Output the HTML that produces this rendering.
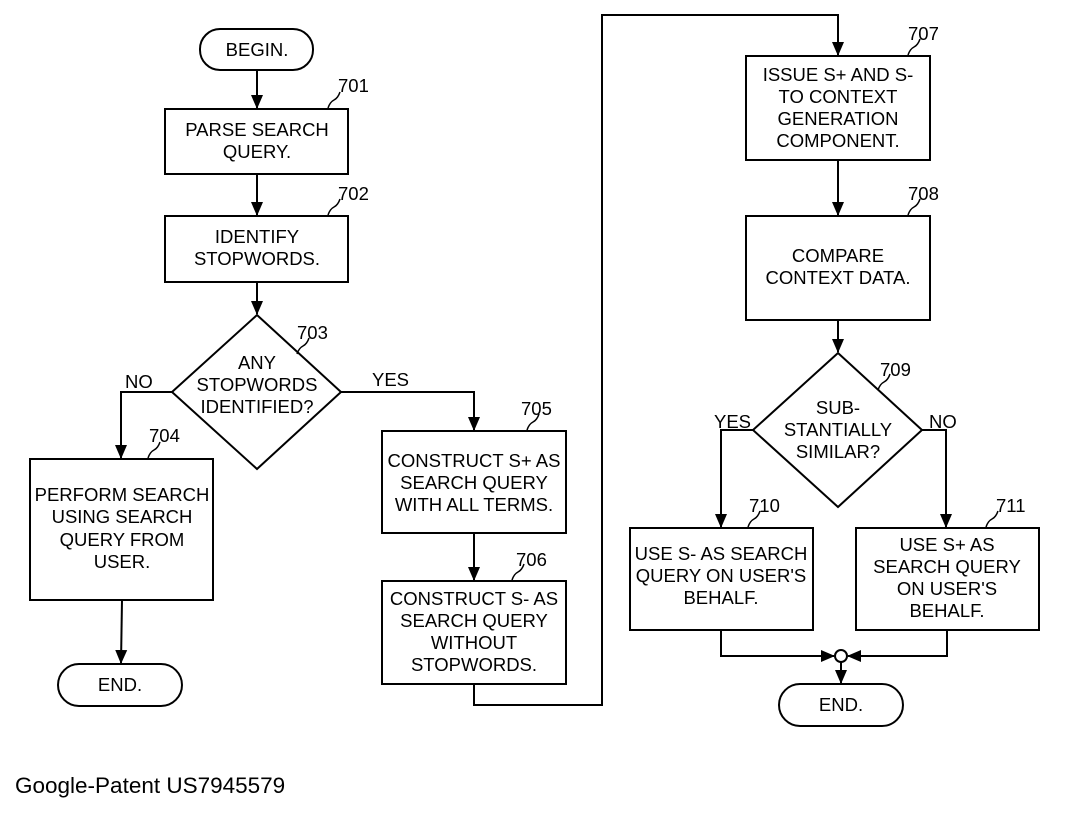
<!DOCTYPE html>
<html><head><style>body{margin:0;background:#fff}svg{display:block}</style></head><body>
<svg width="1073" height="813" viewBox="0 0 1073 813" xmlns="http://www.w3.org/2000/svg" font-family="Liberation Sans, sans-serif" font-size="18.5">
<defs><marker id="a" markerWidth="14" markerHeight="14" refX="13" refY="6" orient="auto" markerUnits="userSpaceOnUse" viewBox="0 0 14 12"><path d="M0,0 L14,6 L0,12 Z" fill="#000"/></marker></defs>
<g fill="none" stroke="#000" stroke-width="2">
<rect x="200" y="29" width="113" height="41" rx="20"/>
<rect x="165" y="109" width="183" height="65"/>
<rect x="165" y="216" width="183" height="66"/>
<path d="M257,315 L341,392 L257,469 L172,392 Z"/>
<rect x="30" y="459" width="183" height="141"/>
<rect x="58" y="664" width="124" height="42" rx="21"/>
<rect x="382" y="431" width="184" height="102"/>
<rect x="382" y="581" width="184" height="103"/>
<rect x="746" y="56" width="184" height="104"/>
<rect x="746" y="216" width="184" height="104"/>
<path d="M838,353 L922,430 L838,507 L753,430 Z"/>
<rect x="630" y="528" width="183" height="102"/>
<rect x="856" y="528" width="183" height="102"/>
<rect x="779" y="684" width="124" height="42" rx="21"/>
<circle cx="841" cy="656" r="6"/>
<path d="M257,70 V108" marker-end="url(#a)"/>
<path d="M257,174 V215" marker-end="url(#a)"/>
<path d="M257,282 V314" marker-end="url(#a)"/>
<path d="M172,392 H121 V458" marker-end="url(#a)"/>
<path d="M341,392 H474 V430" marker-end="url(#a)"/>
<path d="M474,533 V580" marker-end="url(#a)"/>
<path d="M122,600 L121,663" marker-end="url(#a)"/>
<path d="M474,684 V705 H602 V15 H838 V55" marker-end="url(#a)"/>
<path d="M838,160 V215" marker-end="url(#a)"/>
<path d="M838,320 V352" marker-end="url(#a)"/>
<path d="M753,430 H721 V527" marker-end="url(#a)"/>
<path d="M922,430 H946 V527" marker-end="url(#a)"/>
<path d="M721,630 V656 H834" marker-end="url(#a)"/>
<path d="M947,630 V656 H848" marker-end="url(#a)"/>
<path d="M841,662 V683" marker-end="url(#a)"/>
<g stroke-width="1.5">
<path d="M328,108 q2,-6 6,-8 q4,-2 6,-8"/>
<path d="M328,215 q2,-6 6,-8 q4,-2 6,-8"/>
<path d="M297,354 q2,-6 6,-8 q4,-2 6,-8"/>
<path d="M148,458 q2,-6 6,-8 q4,-2 6,-8"/>
<path d="M527,430 q2,-6 6,-8 q4,-2 6,-8"/>
<path d="M512,580 q2,-6 6,-8 q4,-2 6,-8"/>
<path d="M908,55 q2,-6 6,-8 q4,-2 6,-8"/>
<path d="M908,215 q2,-6 6,-8 q4,-2 6,-8"/>
<path d="M878,390 q2,-6 6,-8 q4,-2 6,-8"/>
<path d="M748,527 q2,-6 6,-8 q4,-2 6,-8"/>
<path d="M986,527 q2,-6 6,-8 q4,-2 6,-8"/>
</g></g>
<g text-anchor="middle" fill="#000">
<text x="257" y="56">BEGIN.</text>
<text x="257" y="136">PARSE SEARCH</text><text x="257" y="158">QUERY.</text>
<text x="257" y="243">IDENTIFY</text><text x="257" y="265">STOPWORDS.</text>
<text x="257" y="369">ANY</text><text x="257" y="391">STOPWORDS</text><text x="257" y="413">IDENTIFIED?</text>
<text x="122" y="501">PERFORM SEARCH</text><text x="122" y="523">USING SEARCH</text><text x="122" y="546">QUERY FROM</text><text x="122" y="568">USER.</text>
<text x="120" y="691">END.</text>
<text x="474" y="467">CONSTRUCT S+ AS</text><text x="474" y="489">SEARCH QUERY</text><text x="474" y="511">WITH ALL TERMS.</text>
<text x="474" y="605">CONSTRUCT S- AS</text><text x="474" y="627">SEARCH QUERY</text><text x="474" y="649">WITHOUT</text><text x="474" y="671">STOPWORDS.</text>
<text x="838" y="81">ISSUE S+ AND S-</text><text x="838" y="103">TO CONTEXT</text><text x="838" y="125">GENERATION</text><text x="838" y="147">COMPONENT.</text>
<text x="838" y="262">COMPARE</text><text x="838" y="284">CONTEXT DATA.</text>
<text x="838" y="414">SUB-</text><text x="838" y="436">STANTIALLY</text><text x="838" y="458">SIMILAR?</text>
<text x="721" y="560">USE S- AS SEARCH</text><text x="721" y="582">QUERY ON USER'S</text><text x="721" y="604">BEHALF.</text>
<text x="947" y="551">USE S+ AS</text><text x="947" y="573">SEARCH QUERY</text><text x="947" y="595">ON USER'S</text><text x="947" y="617">BEHALF.</text>
<text x="841" y="711">END.</text>
</g>
<g fill="#000">
<text x="338" y="92">701</text><text x="338" y="200">702</text><text x="297" y="339">703</text>
<text x="149" y="442">704</text><text x="521" y="415">705</text><text x="516" y="566">706</text>
<text x="908" y="40">707</text><text x="908" y="200">708</text><text x="880" y="376">709</text>
<text x="749" y="512">710</text><text x="996" y="512">711</text>
<text x="125" y="388">NO</text><text x="372" y="386">YES</text>
<text x="714" y="428">YES</text><text x="929" y="428">NO</text>
<text x="15" y="793" font-size="22.5">Google-Patent US7945579</text>
</g>
</svg>
</body></html>
